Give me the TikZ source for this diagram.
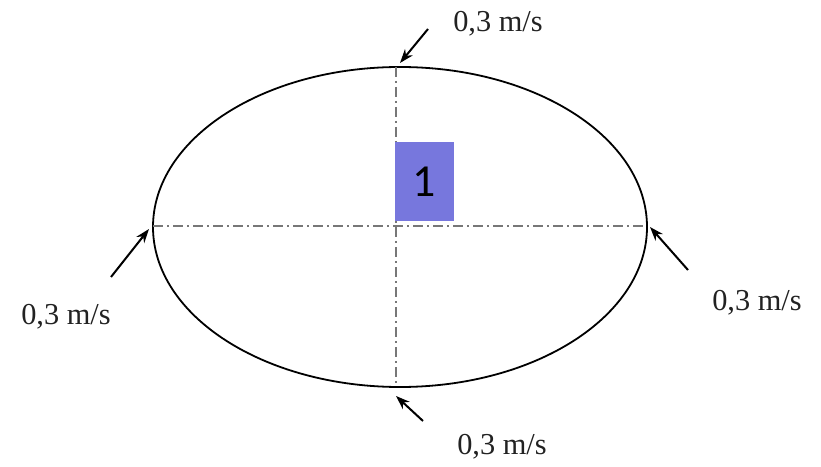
\documentclass[tikz,border=0pt]{standalone}
\usepackage{fontspec}
\setmainfont{Liberation Serif}
\newfontfamily\boxfont{Carlito}
\usetikzlibrary{arrows.meta,shapes.geometric}
\definecolor{boxblue}{HTML}{7777DD}
\definecolor{axisgray}{HTML}{777777}
\definecolor{txt}{HTML}{222222}
\begin{document}
\begin{tikzpicture}[x=1bp,y=-1bp,
  outline/.style={draw=black,line width=1.8bp,ellipse,minimum width=494bp,minimum height=320bp,inner sep=0},
  axis/.style={draw=axisgray,line width=1.3bp,dash pattern=on 10bp off 4bp on 2bp off 4bp},
  push/.style={draw=black,line width=2bp,-{Stealth[length=14bp,width=10bp]}},
  speed/.style={font=\fontsize{30.5}{33}\selectfont,text=txt,inner sep=0},
  mark1/.style={fill=boxblue,minimum width=59bp,minimum height=79bp,inner sep=0,font=\boxfont\fontsize{46}{50}\selectfont}]
\useasboundingbox (0,0) rectangle (821,467);
\node[outline] (ell) at (400,227) {};
\coordinate (vt) at (396,67);
\coordinate (vb) at (396,387);
\coordinate (hl) at (153,226);
\coordinate (hr) at (647,226);
\draw[axis] (vt) -- (vb);
\draw[axis] (hl) -- (hr);
\node[mark1] (one) at (424.5,181.5) {1};
% arrows
\coordinate (ts) at (428,29);  \coordinate (te) at (400,63);
\coordinate (ls) at (111,277); \coordinate (le) at (149,229);
\coordinate (rs) at (688,270); \coordinate (re) at (650,227);
\coordinate (bs) at (423,421); \coordinate (be) at (396,396);
\draw[push] (ts) -- (te);
\draw[push] (ls) -- (le);
\draw[push] (rs) -- (re);
\draw[push] (bs) -- (be);
\node[speed] (lt) at (498,24) {0,3 m/s};
\node[speed] (ll) at (66,317) {0,3 m/s};
\node[speed] (lr) at (757,303) {0,3 m/s};
\node[speed] (lb) at (502,447) {0,3 m/s};
\end{tikzpicture}
\end{document}
